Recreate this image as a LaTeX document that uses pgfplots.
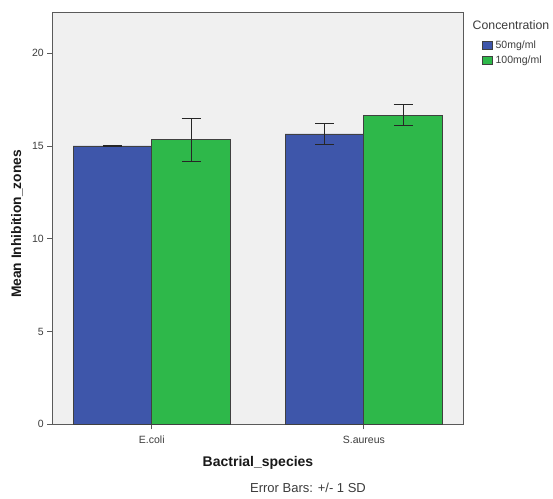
\documentclass[border=0pt]{standalone}
\usepackage{fontspec}
\setmainfont{Liberation Sans}
\usepackage{pgfplots}
\pgfplotsset{compat=1.18}
\definecolor{barblue}{RGB}{62,86,170}
\definecolor{bargreen}{RGB}{46,184,74}
\definecolor{bg}{RGB}{240,240,240}
\definecolor{axisgray}{RGB}{90,90,90}
\definecolor{labelgray}{RGB}{60,60,60}
\begin{document}
\begin{tikzpicture}[x=1pt,y=1pt]
\path[use as bounding box] (0,0) rectangle (553,498);
\begin{axis}[
  scale only axis, width=411pt, height=412pt,
  at={(52.3pt,73.7pt)}, anchor=south west,
  xmin=-0.469, xmax=1.469, ymin=0, ymax=22.2,
  axis background/.style={fill=bg},
  axis line style={draw=axisgray, line width=0.8pt},
  xtick={0,1}, xticklabels={E.coli,S.aureus},
  ytick={0,5,10,15,20},
  tick align=outside, tick pos=left,
  major tick length=5pt,
  tick style={draw=axisgray, line width=0.8pt},
  ticklabel style={font=\fontsize{10.5}{12}\selectfont, text=labelgray},
  xticklabel style={yshift=-3pt},
  /pgf/number format/assume math mode=true,
  ybar=0pt, bar width=0.3706,
  error bars/error bar style={line width=0.8pt, color=black!85},
  error bars/error mark options={rotate=90, mark size=9.5pt, line width=0.8pt, color=black!85},
  legend image code/.code={\draw[#1] (0pt,-3.8pt) rectangle (10pt,3.8pt); \path (12pt,0pt);},
  legend style={at={(1.0448,0.9340)}, anchor=north west, draw=none, fill=none,
    inner sep=0pt, font=\fontsize{10.5}{12}\selectfont, row sep=4pt,
    nodes={inner sep=1pt, text=labelgray}},
  legend cell align=left,
  clip=false,
]
\addplot+[fill=barblue, draw=black!75, line width=0.7pt,
  error bars/.cd, y dir=both, y explicit]
  coordinates {(0,15.0) +- (0,0.02) (1,15.65) +- (0,0.565)};
\addplot+[fill=bargreen, draw=black!75, line width=0.7pt,
  error bars/.cd, y dir=both, y explicit]
  coordinates {(0,15.33) +- (0,1.16) (1,16.66) +- (0,0.575)};
\legend{50mg/ml,100mg/ml}
\end{axis}
\node[font=\fontsize{12.3}{14}\selectfont, text=labelgray] at (511,472.7) {Concentration};
\node[font=\bfseries\fontsize{14}{16}\selectfont, text=black!90] at (258,35) {Bactrial\_species};
\node[font=\bfseries\fontsize{13.8}{16}\selectfont, text=black!90, rotate=90] at (17,274) {Mean Inhibition\_zones};
\node[font=\fontsize{13}{15}\selectfont, text=labelgray] at (308,10) {Error Bars: +/- 1 SD};
\end{tikzpicture}
\end{document}
